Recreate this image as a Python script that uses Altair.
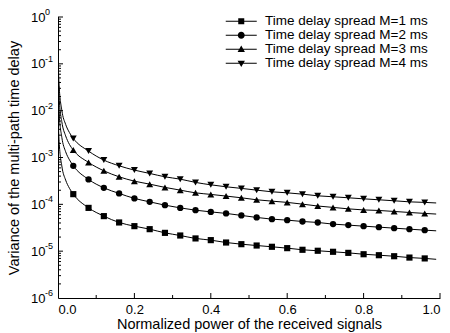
import altair as alt
import pandas as pd

FONT = "Liberation Sans, Arial, Helvetica, sans-serif"

series = [
    "Time delay spread M=1 ms",
    "Time delay spread M=2 ms",
    "Time delay spread M=3 ms",
    "Time delay spread M=4 ms",
]
shapes = ["square", "circle", "triangle-up", "triangle-down"]
marker_sizes = [38, 40, 48, 48]

# marker positions (normalized power)
x_marker = [0.04, 0.08, 0.12, 0.16, 0.20, 0.24, 0.28, 0.32, 0.36, 0.40, 0.44, 0.48,
            0.52, 0.56, 0.60, 0.64, 0.68, 0.72, 0.76, 0.80, 0.84, 0.88, 0.92, 0.96]

m1 = [1.65e-4, 8.4e-5, 5.6e-5, 4.1e-5, 3.42e-5, 2.95e-5, 2.46e-5, 2.16e-5, 1.87e-5, 1.72e-5,
      1.53e-5, 1.41e-5, 1.32e-5, 1.24e-5, 1.16e-5, 1.07e-5, 1.02e-5, 9.7e-6, 9.2e-6, 8.6e-6,
      8.2e-6, 7.8e-6, 7.3e-6, 7.0e-6]
m2 = [6.65e-4, 3.4e-4, 2.25e-4, 1.71e-4, 1.34e-4, 1.13e-4, 9.6e-5, 8.4e-5, 7.5e-5, 6.9e-5,
      6.4e-5, 5.8e-5, 5.25e-5, 4.83e-5, 4.6e-5, 4.3e-5, 4.1e-5, 3.78e-5, 3.6e-5, 3.42e-5,
      3.26e-5, 3.1e-5, 2.95e-5, 2.81e-5]
m3 = [1.44e-3, 7.85e-4, 5.2e-4, 3.87e-4, 3.13e-4, 2.7e-4, 2.3e-4, 2.01e-4, 1.76e-4, 1.63e-4,
      1.5e-4, 1.38e-4, 1.25e-4, 1.17e-4, 1.1e-4, 1.01e-4, 9.2e-5, 8.6e-5, 8.0e-5, 7.6e-5,
      7.4e-5, 7.05e-5, 6.7e-5, 6.4e-5]
m4 = [2.56e-3, 1.37e-3, 8.8e-4, 6.65e-4, 5.38e-4, 4.57e-4, 3.87e-4, 3.45e-4, 2.94e-4, 2.61e-4,
      2.37e-4, 2.19e-4, 2.01e-4, 1.85e-4, 1.76e-4, 1.65e-4, 1.52e-4, 1.45e-4, 1.38e-4, 1.31e-4,
      1.25e-4, 1.19e-4, 1.13e-4, 1.1e-4]

# extra curve points near the origin (steep rise along the y axis) and at the right end
x_head = [0.000005, 0.00003, 0.0001, 0.0003, 0.001, 0.003, 0.01, 0.02, 0.03]
h1 = [1.0, 0.22, 0.066, 0.022, 6.6e-3, 2.2e-3, 6.6e-4, 3.3e-4, 2.2e-4]
h2 = [5.3, 0.89, 0.27, 0.089, 0.027, 8.9e-3, 2.7e-3, 1.33e-3, 8.9e-4]
h3 = [11.6, 1.9, 0.58, 0.19, 0.058, 0.019, 5.8e-3, 2.9e-3, 1.9e-3]
h4 = [20.0, 3.4, 1.02, 0.34, 0.10, 0.034, 0.0102, 5.1e-3, 3.4e-3]
x_tail = [0.99]
t1 = [6.7e-6]
t2 = [2.72e-5]
t3 = [6.2e-5]
t4 = [1.07e-4]

x_major = [0.2, 0.4, 0.6, 0.8, 1.0]
x_minor = [0.1, 0.3, 0.5, 0.7, 0.9]
x_labels = [0.0, 0.2, 0.4, 0.6, 0.8, 1.0]
y_major = [1e-6, 1e-5, 1e-4, 1e-3, 1e-2, 1e-1, 1e0]
y_exp = ["-6", "-5", "-4", "-3", "-2", "-1", "0"]
y_minor = [m * 10.0 ** k for k in range(-6, 0) for m in range(2, 10)]

marker_vals = [m1, m2, m3, m4]
head_vals = [h1, h2, h3, h4]
tail_vals = [t1, t2, t3, t4]

mk_rows, ln_rows = [], []
for s, mv, hv, tv in zip(series, marker_vals, head_vals, tail_vals):
    for x, v in zip(x_marker, mv):
        mk_rows.append({"series": s, "x": x, "y": v})
    for x, v in zip(x_head + x_marker + x_tail, hv + mv + tv):
        ln_rows.append({"series": s, "x": x, "y": v})
mk_df = pd.DataFrame(mk_rows)
ln_df = pd.DataFrame(ln_rows)

W, H = 382, 281

xs = alt.Scale(domain=[0, 1], nice=False, zero=False)
ys = alt.Scale(type="log", domain=[1e-6, 1], nice=False)

x_axis = alt.Axis(values=x_labels, format=".1f", ticks=False, tickSize=0, grid=False,
                  domainColor="black", domainWidth=1, labelColor="black", labelFontSize=13,
                  labelFont=FONT, labelPadding=5, title="Normalized power of the received signals",
                  titleFont=FONT, titleFontSize=14.5, titleFontWeight="normal", titleColor="black",
                  titlePadding=1)
y_axis = alt.Axis(values=y_major, labelExpr="'10'", ticks=False, tickSize=0, grid=False,
                  domainColor="black", domainWidth=1, labelColor="black", labelFontSize=13,
                  labelFont=FONT, labelPadding=13, title="Variance of the multi-path time delay",
                  titleFont=FONT, titleFontSize=14.5, titleFontWeight="normal", titleColor="black",
                  titlePadding=9)

lines = alt.Chart(ln_df).mark_line(color="black", strokeWidth=1, clip=True,
                                   interpolate="monotone").encode(
    x=alt.X("x:Q", scale=xs, axis=x_axis),
    y=alt.Y("y:Q", scale=ys, axis=y_axis),
    detail="series:N",
)

layers = [lines]
for s, shp, sz in zip(series, shapes, marker_sizes):
    layers.append(
        alt.Chart(mk_df).transform_filter(alt.datum.series == s)
        .mark_point(shape=shp, filled=True, color="black", size=sz, opacity=1)
        .encode(x=alt.X("x:Q", scale=xs), y=alt.Y("y:Q", scale=ys))
    )

# legend symbols: thin filled bar (the line) plus the marker, all drawn as one filled path
BAR = "M-4.43,-0.15L4.43,-0.15L4.43,0.15L-4.43,0.15Z"
legend_paths = [
    BAR + "M-0.86,-0.86L0.86,-0.86L0.86,0.86L-0.86,0.86Z",
    BAR + "M1,0A1,1,0,1,1,-1,0A1,1,0,1,1,1,0Z",
    BAR + "M0,-1.1L1.05,0.75L-1.05,0.75Z",
    BAR + "M0,1.1L-1.05,-0.75L1.05,-0.75Z",
]
legend_layer = alt.Chart(mk_df).transform_filter("false").mark_point(
    filled=True, color="black", opacity=1).encode(
    x=alt.X("x:Q", scale=xs),
    y=alt.Y("y:Q", scale=ys),
    shape=alt.Shape("series:N", scale=alt.Scale(domain=series, range=legend_paths),
                    legend=alt.Legend(title=None, orient="none", legendX=176.5, legendY=-2.5,
                                      symbolSize=49, symbolFillColor="black",
                                      symbolStrokeWidth=0,
                                      labelFont=FONT, labelFontSize=13.5, labelColor="black",
                                      labelOffset=17, rowPadding=-3, padding=0,
                                      labelLimit=300)),
)
layers.append(legend_layer)

# inward ticks
tick_x_major = alt.Chart(pd.DataFrame({"x": x_major})).mark_rule(color="black", strokeWidth=1).encode(
    x=alt.X("x:Q", scale=xs), y=alt.value(H), y2=alt.value(H - 5))
tick_x_minor = alt.Chart(pd.DataFrame({"x": x_minor})).mark_rule(color="black", strokeWidth=1).encode(
    x=alt.X("x:Q", scale=xs), y=alt.value(H), y2=alt.value(H - 3))
tick_y_major = alt.Chart(pd.DataFrame({"y": y_major[1:]})).mark_rule(color="black", strokeWidth=1).encode(
    y=alt.Y("y:Q", scale=ys), x=alt.value(0), x2=alt.value(5))
tick_y_minor = alt.Chart(pd.DataFrame({"y": y_minor})).mark_rule(color="black", strokeWidth=1).encode(
    y=alt.Y("y:Q", scale=ys), x=alt.value(0), x2=alt.value(3))
exps = alt.Chart(pd.DataFrame({"y": y_major, "e": y_exp})).mark_text(
    align="left", baseline="middle", fontSize=9, font=FONT, color="black", dy=-5).encode(
    y=alt.Y("y:Q", scale=ys), x=alt.value(-13), text="e:N")

layers += [tick_x_major, tick_x_minor, tick_y_major, tick_y_minor, exps]

chart = alt.layer(*layers).properties(
    width=W, height=H,
    autosize=alt.AutoSizeParams(type="none"),
    padding={"left": 58, "top": 17, "right": 10, "bottom": 35},
    background="white",
).configure_view(stroke=None)

chart.save("out.html", embed_options={"renderer": "svg", "actions": False})
